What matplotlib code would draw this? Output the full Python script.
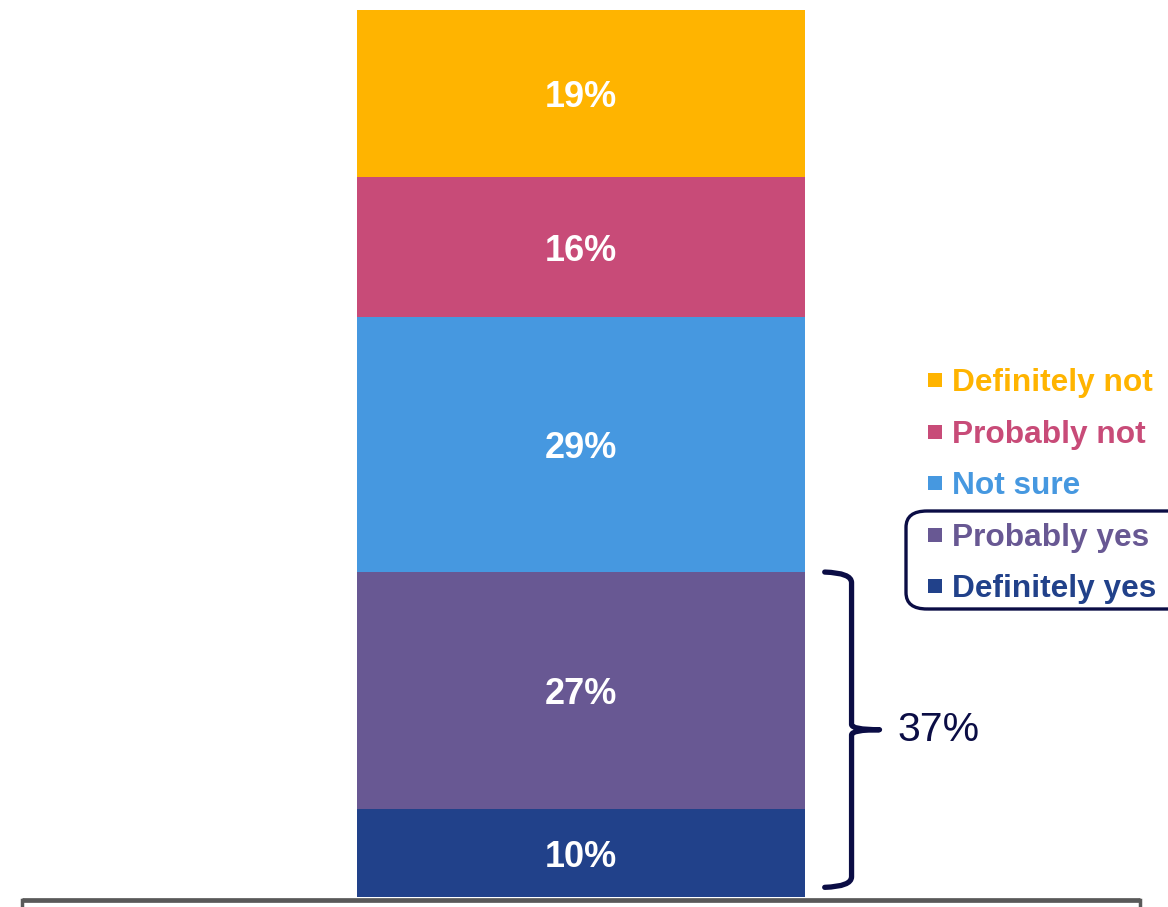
import matplotlib.pyplot as plt
from matplotlib.patches import Rectangle, FancyBboxPatch
from matplotlib.path import Path
from matplotlib.patches import PathPatch

plt.rcParams['font.family'] = ['Liberation Sans', 'DejaVu Sans']

# stacked from the bottom up
categories = ["Definitely yes", "Probably yes", "Not sure", "Probably not", "Definitely not"]
values = [10, 27, 29, 16, 19]
colors = ["#21418A", "#685893", "#4698E0", "#C84B78", "#FFB400"]
yes_total = 37
navy = "#0B0D45"

W, H = 1168, 907
fig = plt.figure(figsize=(W / 100, H / 100), dpi=100)
# axes spans the grey baseline, top of bar at the top edge
ax = fig.add_axes([22 / W, (H - 897) / H, 1118 / W, 887 / H])
ax.set_xlim(0, 1)
ax.set_ylim(0, sum(values))
ax.axis("off")

bottom = 0
for cat, v, c in zip(categories, values, colors):
    ax.bar(0.5, v, width=0.4, bottom=bottom, color=c, edgecolor="none")
    ax.text(0.5, bottom + v / 2, f"{v}%", ha="center", va="center_baseline",
            color="white", fontsize=26, fontweight="bold")
    bottom += v

# grey baseline with end ticks, sitting just under the bar
ax.plot([0, 1], [-0.3, -0.3], color="#595959", lw=3.4, clip_on=False,
        solid_capstyle="butt")
for xe in (0, 1):
    ax.plot([xe, xe], [-0.3, -1.3], color="#595959", lw=2.5, clip_on=False)

# curly bracket over the two "yes" segments
x0, xv, xt = 0.718, 0.742, 0.767
y0, y1 = 1.1, values[0] + values[1]
ym = (y0 + y1) / 2
verts = [(x0, y1), (xv, y1 - 0.1), (xv, y1 - 1.2),
         (xv, ym + 0.6),
         (xv, ym), (xt, ym),
         (xv, ym), (xv, ym - 0.6),
         (xv, y0 + 1.2), (xv, y0 + 0.1), (x0, y0)]
codes = [Path.MOVETO, Path.CURVE3, Path.CURVE3,
         Path.LINETO,
         Path.CURVE3, Path.CURVE3,
         Path.CURVE3, Path.CURVE3,
         Path.LINETO, Path.CURVE3, Path.CURVE3]
ax.add_patch(PathPatch(Path(verts, codes), facecolor="none", edgecolor=navy,
                       lw=3.8, capstyle="round", joinstyle="round", clip_on=False))
ax.text(0.783, ym, f"{yes_total}%", ha="left", va="center", color=navy,
        fontsize=29.5)

# legend, top entry first
row0, step = 380, 51.5
for i, (cat, c) in enumerate(zip(categories[::-1], colors[::-1])):
    yc = row0 + i * step
    fig.patches.append(Rectangle((928 / W, (H - yc - 7) / H), 14 / W, 14 / H,
                                 transform=fig.transFigure, facecolor=c,
                                 edgecolor="none"))
    fig.text(952 / W, (H - yc) / H, cat, ha="left", va="center_baseline",
             color=c, fontsize=22.8, fontweight="bold")

fig.patches.append(FancyBboxPatch((906 / W, (H - 609) / H), 300 / W, 98 / H,
                                  boxstyle="round,pad=0,rounding_size=0.018",
                                  transform=fig.transFigure, facecolor="none",
                                  edgecolor=navy, lw=2.4))

fig.savefig("out.png", dpi=100)
